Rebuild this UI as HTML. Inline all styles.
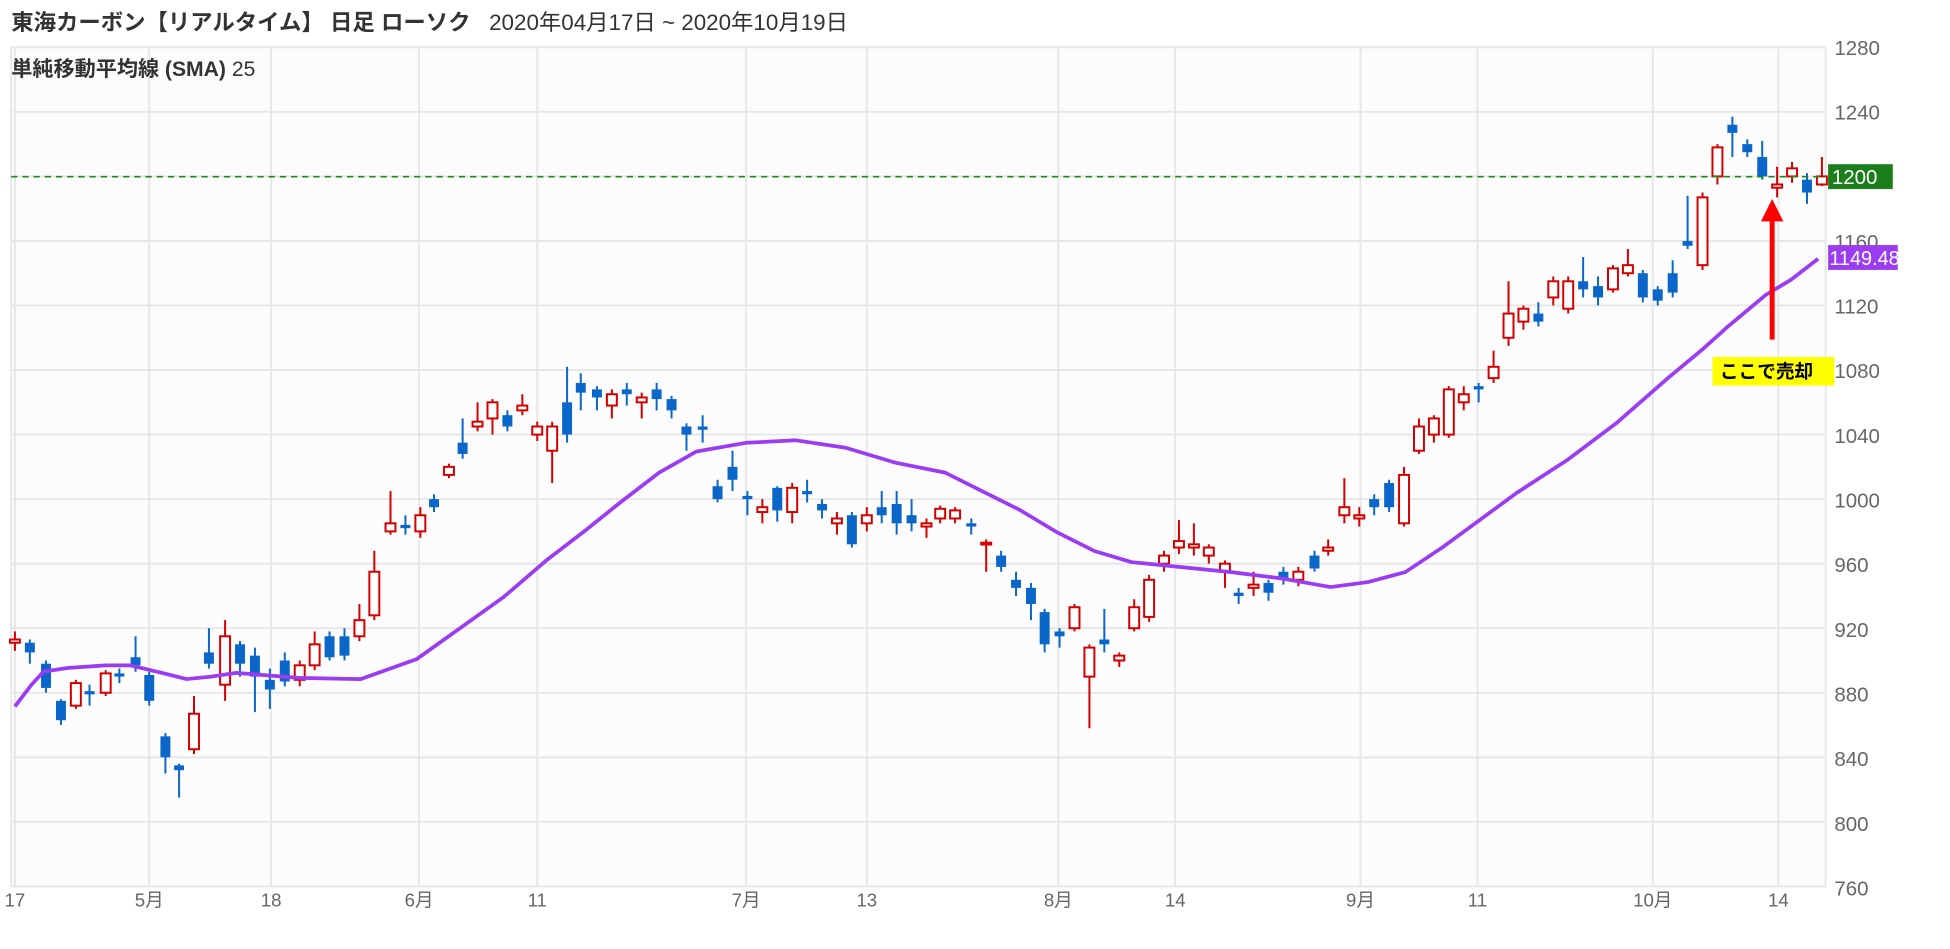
<!DOCTYPE html>
<html><head><meta charset="utf-8"><style>
html,body{margin:0;padding:0;background:#fff;width:1950px;height:949px;overflow:hidden}
svg{display:block}
text{font-family:"Liberation Sans","Noto Sans CJK JP",sans-serif}
</style></head><body>
<svg id="c" width="1950" height="949" viewBox="0 0 1568 763" xmlns="http://www.w3.org/2000/svg">
<rect x="9" y="38" width="1459" height="675" fill="#fcfcfc"/>
<g id="grid" stroke="#e6e6e6" stroke-width="1.5"></g>
<g id="candles"></g>
<polyline fill="none" stroke="#9b3cf2" stroke-width="3" stroke-linejoin="round" points="12,568 25,551 35,540 55,537 85,535 105,535 130,541 150,546 170,544 190,541 215,543 240,545 290,546 335,530 370,505 405,480 440,450 470,427 500,403 530,380 560,363 600,356 640,354 680,360 720,372 760,380 790,395 820,410 850,428 880,443 910,452 950,456 990,460 1030,465 1070,472 1100,468 1130,460 1160,440 1190,418 1220,396 1260,370 1300,340 1340,305 1370,280 1390,262 1420,237 1440,225 1462,208"/>
<line x1="9" y1="142" x2="1468" y2="142" stroke="#1a8a1a" stroke-width="1.3" stroke-dasharray="5,4"/>
<g font-size="16.5" fill="#666">
<text x="1475" y="44">1280</text><text x="1475" y="96">1240</text>
<text x="1475" y="200">1160</text><text x="1475" y="252">1120</text><text x="1475" y="304">1080</text>
<text x="1475" y="356">1040</text><text x="1475" y="408">1000</text><text x="1475" y="460">960</text>
<text x="1475" y="512">920</text><text x="1475" y="564">880</text><text x="1475" y="616">840</text>
<text x="1475" y="668">800</text><text x="1475" y="720">760</text>
</g>
<rect x="1470" y="132" width="52" height="20" fill="#1a7f1a"/>
<text x="1473" y="148" font-size="16.5" fill="#fff">1200</text>
<rect x="1470" y="197" width="56" height="20" fill="#9b3cf2"/>
<text x="1471" y="213" font-size="16" fill="#fff">1149.48</text>
<g font-size="15" fill="#666" text-anchor="middle">
<text x="12" y="729">17</text><text x="120" y="729">5月</text><text x="218" y="729">18</text>
<text x="337" y="729">6月</text><text x="432" y="729">11</text><text x="600" y="729">7月</text>
<text x="697" y="729">13</text><text x="851" y="729">8月</text><text x="945" y="729">14</text>
<text x="1094" y="729">9月</text><text x="1188" y="729">11</text><text x="1329" y="729">10月</text>
<text x="1430" y="729">14</text>
</g>
<text x="9" y="24" font-size="18" fill="#333" font-weight="bold">東海カーボン【リアルタイム】 日足 ローソク <tspan font-weight="normal" dx="10">2020年04月17日 ~ 2020年10月19日</tspan></text>
<text x="9" y="61" font-size="17" fill="#333" font-weight="bold">単純移動平均線 (SMA) <tspan font-weight="normal">25</tspan></text>
<line x1="1425" y1="273" x2="1425" y2="175" stroke="#f00" stroke-width="4"/>
<polygon points="1416,178 1434,178 1425,160" fill="#f00"/>
<rect x="1377" y="287" width="98" height="23" fill="#ff0"/>
<text x="1383" y="304" font-size="15" font-weight="bold" fill="#000">ここで売却</text>
</svg>
<script>
var NS="http://www.w3.org/2000/svg";
function Y(p){return 38+(1280-p)*1.2975;}
var g=document.getElementById("grid");
function ln(x1,y1,x2,y2){var l=document.createElementNS(NS,"line");l.setAttribute("x1",x1);l.setAttribute("y1",y1);l.setAttribute("x2",x2);l.setAttribute("y2",y2);g.appendChild(l);}
for(var p=760;p<=1280;p+=40)ln(9,Y(p),1468,Y(p));
[9,12,120,218,337,432,600,697,851,945,1094,1188,1329,1430,1468].forEach(function(x){ln(x,38,x,713);});
var d=[[12,911,913,918,906],[24,911,905,913,898],[37,898,883,900,880],[49,875,863,876,860],[61,872,886,888,870],[72,881,879,885,872],[85,880,892,894,878],[96,892,890,895,886],[109,902,897,915,893],[120,891,875,893,872],
[133,853,840,855,830],[144,835,832,836,815],[156,845,867,878,842],[168,905,898,920,895],[181,885,915,925,875],[193,910,898,912,890],[205,903,890,908,868],[217,888,882,895,870],[229,900,887,905,884],[241,888,897,900,884],
[253,897,910,918,894],[265,915,902,918,900],[277,915,903,920,900],[289,915,925,935,912],[301,928,955,968,925],[314,980,985,1005,978],[326,984,982,990,978],[338,980,990,995,976],[349,1000,995,1003,992],[361,1015,1020,1022,1013],
[372,1035,1028,1050,1025],[384,1045,1048,1060,1042],[396,1050,1060,1062,1040],[408,1052,1045,1055,1042],[420,1055,1058,1065,1052],[432,1040,1045,1048,1036],[444,1030,1045,1048,1010],[456,1060,1040,1082,1035],[467,1072,1066,1078,1055],[480,1068,1063,1070,1055],
[492,1058,1065,1068,1050],[504,1068,1065,1072,1058],[516,1060,1063,1066,1050],[528,1068,1062,1072,1055],[540,1062,1055,1064,1050],[552,1045,1040,1047,1030],[565,1045,1043,1052,1035],[577,1008,1000,1012,998],[589,1020,1012,1030,1005],[601,1002,1000,1005,990],
[613,992,995,1000,985],[625,1007,993,1008,986],[637,992,1007,1010,985],[649,1005,1003,1012,998],[661,997,993,1000,988],[673,985,988,992,978],[685,990,972,992,970],[697,985,990,995,980],[709,995,990,1005,985],[721,997,985,1005,978],
[733,990,985,1000,980],[745,983,985,988,976],[756,988,994,996,985],[768,988,993,995,985],[781,985,983,988,978],[793,972,973,975,955],[805,965,958,968,955],[817,950,945,955,940],[829,945,935,948,925],[840,930,910,932,905],
[852,918,915,920,908],[864,920,933,935,918],[876,890,908,910,858],[888,913,910,932,905],[900,900,903,905,896],[912,920,933,938,918],[924,927,950,953,924],[936,960,965,968,955],[948,970,974,987,966],[960,970,972,985,965],
[972,965,970,972,960],[985,955,960,962,945],[996,942,940,945,935],[1008,945,947,955,940],[1020,948,942,950,937],[1032,955,950,958,947],[1044,950,955,958,946],[1057,965,957,968,955],[1068,968,970,975,965],[1081,990,995,1013,985],
[1093,988,990,995,983],[1105,1000,995,1003,990],[1117,1010,995,1012,992],[1129,985,1015,1020,983],[1141,1030,1045,1050,1028],[1153,1040,1050,1052,1035],[1165,1040,1068,1070,1038],[1177,1060,1065,1070,1055],[1189,1070,1068,1072,1060],[1201,1075,1082,1092,1072],
[1213,1100,1115,1135,1095],[1225,1110,1118,1120,1105],[1237,1115,1110,1122,1107],[1249,1125,1135,1138,1120],[1261,1118,1135,1138,1115],[1273,1135,1130,1150,1125],[1285,1132,1125,1138,1120],[1297,1130,1143,1145,1128],[1309,1140,1145,1155,1138],[1321,1140,1125,1142,1122],
[1333,1130,1123,1132,1120],[1345,1140,1128,1148,1125],[1357,1160,1157,1188,1155],[1369,1145,1187,1190,1142],[1381,1200,1218,1220,1195],[1393,1232,1227,1237,1212],[1405,1220,1215,1223,1212],[1417,1212,1200,1222,1198],[1429,1193,1195,1206,1187],[1441,1200,1205,1209,1196],
[1453,1198,1190,1202,1183],[1465,1195,1200,1212,1194]];
var cg=document.getElementById("candles");
d.forEach(function(c){
 var up=c[2]>=c[1], col=up?"#d40000":"#0a66c8";
 var l=document.createElementNS(NS,"line");
 l.setAttribute("x1",c[0]);l.setAttribute("x2",c[0]);l.setAttribute("y1",Y(c[3]));l.setAttribute("y2",Y(c[4]));
 l.setAttribute("stroke",col);l.setAttribute("stroke-width","1.6");cg.appendChild(l);
 var top=Y(Math.max(c[1],c[2])),bot=Y(Math.min(c[1],c[2]));
 var r=document.createElementNS(NS,"rect");
 r.setAttribute("x",c[0]-4);r.setAttribute("width",8);r.setAttribute("y",top);r.setAttribute("height",Math.max(bot-top,1.5));
 if(up){r.setAttribute("fill","#fff");r.setAttribute("stroke",col);r.setAttribute("stroke-width","1.6");}
 else{r.setAttribute("fill",col);}
 cg.appendChild(r);
});
</script>
</body></html>
